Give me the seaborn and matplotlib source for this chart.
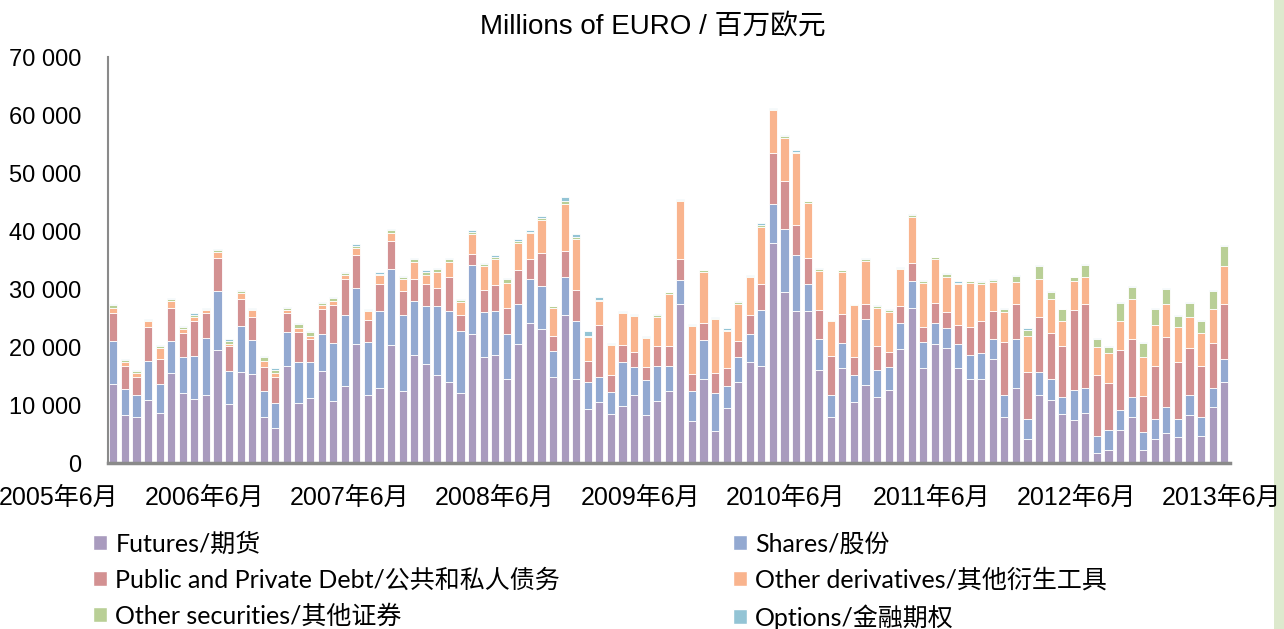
import numpy as np
import pandas as pd
import matplotlib
matplotlib.use("Agg")
import matplotlib.pyplot as plt
from matplotlib.patches import Patch, Rectangle
import seaborn as sns

# monthly turnover, thousands of EUR millions, Jun 2005 - Jun 2013
months = pd.period_range("2005-06", "2013-06", freq="M").astype(str)

futures = [13.6, 8.2, 8.0, 10.8, 8.7, 15.6, 12.0, 11.0, 11.8, 19.4,
           10.1, 15.7, 15.3, 7.9, 6.0, 16.7, 10.3, 11.2, 15.9, 10.7,
           13.2, 20.6, 11.8, 12.9, 20.3, 12.5, 18.6, 17.1, 15.1, 14.0,
           12.0, 22.2, 18.3, 18.7, 14.5, 20.6, 24.1, 23.1, 14.8, 25.5,
           14.5, 9.3, 10.5, 8.4, 9.9, 11.8, 8.2, 10.7, 12.5, 27.5,
           7.2, 14.5, 5.6, 9.4, 14.0, 17.4, 16.8, 38.0, 29.4, 26.2,
           26.2, 16.1, 7.9, 16.3, 10.6, 13.4, 11.4, 12.6, 19.7, 26.7,
           16.4, 20.6, 19.9, 16.4, 14.5, 14.5, 17.9, 7.9, 13.0, 4.1,
           11.7, 10.9, 8.4, 7.5, 8.6, 1.8, 2.3, 5.7, 8.0, 2.2,
           4.1, 5.1, 4.4, 8.2, 4.7, 9.6, 14.0]
shares = [7.4, 4.6, 3.8, 6.8, 5.0, 5.4, 6.2, 7.4, 9.7, 10.2,
          5.7, 7.9, 5.9, 4.5, 4.3, 5.9, 7.2, 6.3, 6.3, 10.0,
          12.4, 9.5, 9.0, 13.3, 13.1, 13.1, 9.3, 9.9, 11.9, 12.2,
          10.7, 11.9, 7.7, 7.5, 7.7, 6.8, 7.6, 7.5, 4.5, 6.5,
          9.9, 4.7, 4.4, 3.8, 7.6, 4.7, 6.1, 6.0, 4.3, 4.0,
          5.2, 6.7, 6.5, 3.9, 4.3, 4.9, 9.5, 6.7, 10.9, 9.6,
          4.6, 5.2, 3.9, 4.4, 4.5, 11.5, 4.6, 4.0, 4.4, 4.7,
          4.5, 3.6, 3.3, 4.2, 4.2, 4.4, 3.4, 3.9, 8.3, 3.5,
          4.0, 3.5, 2.9, 5.1, 4.4, 2.9, 3.4, 3.5, 3.4, 3.2,
          3.5, 4.6, 3.2, 3.5, 3.3, 3.4, 3.9]
debt = [4.9, 4.0, 3.1, 5.9, 4.3, 5.8, 4.3, 6.1, 4.4, 5.8,
        4.3, 4.7, 4.0, 4.2, 4.6, 3.3, 5.1, 3.8, 4.4, 6.5,
        6.2, 5.8, 3.9, 4.7, 4.8, 4.0, 3.9, 3.9, 3.2, 5.9,
        2.9, 1.9, 3.9, 4.5, 4.6, 5.9, 3.4, 5.6, 2.6, 4.6,
        5.5, 3.6, 8.9, 2.9, 2.9, 2.7, 2.3, 3.4, 3.4, 3.6,
        3.0, 2.9, 3.5, 3.0, 2.8, 3.3, 4.6, 8.8, 8.3, 5.2,
        4.6, 5.1, 6.7, 5.0, 3.1, 2.6, 4.1, 2.6, 3.0, 3.0,
        2.5, 3.4, 2.9, 3.2, 4.8, 5.5, 4.9, 9.0, 6.2, 8.1,
        9.5, 8.1, 8.8, 13.7, 14.5, 10.5, 8.1, 10.3, 10.0, 6.2,
        9.2, 12.1, 9.8, 8.1, 8.8, 7.7, 9.6]
other_deriv = [0.9, 0.6, 0.7, 0.9, 1.9, 1.1, 0.6, 0.7, 0.5, 1.0,
               0.5, 1.0, 1.1, 1.0, 0.7, 0.5, 0.7, 0.6, 0.6, 0.8,
               0.7, 1.2, 1.5, 1.5, 1.5, 2.1, 2.9, 1.6, 2.8, 2.6,
               2.2, 3.4, 4.1, 4.4, 4.2, 4.7, 4.5, 5.7, 4.9, 8.0,
               8.7, 4.2, 4.1, 5.2, 5.5, 6.1, 5.0, 5.1, 8.9, 10.0,
               8.2, 8.9, 9.2, 6.4, 6.4, 6.5, 9.8, 7.3, 7.4, 12.4,
               9.4, 6.7, 5.9, 7.3, 9.0, 7.4, 6.7, 6.8, 6.3, 8.0,
               7.7, 7.5, 5.9, 7.1, 7.5, 6.5, 5.0, 5.2, 3.7, 6.2,
               6.5, 5.8, 4.3, 5.0, 4.6, 4.8, 5.2, 4.9, 6.8, 6.7,
               7.0, 5.7, 6.0, 5.4, 5.6, 5.9, 6.5]
other_sec = [0.4, 0.3, 0.2, 0.3, 0.3, 0.4, 0.3, 0.4, 0.2, 0.3,
             0.4, 0.4, 0.3, 0.6, 0.5, 0.3, 0.7, 0.7, 0.4, 0.4,
             0.3, 0.4, 0.1, 0.2, 0.4, 0.4, 0.4, 0.4, 0.4, 0.4,
             0.3, 0.5, 0.3, 0.5, 0.7, 0.3, 0.3, 0.3, 0.2, 0.5,
             0.4, 0.1, 0.2, 0.2, 0.1, 0.2, 0.2, 0.3, 0.3, 0.2,
             0.2, 0.2, 0.2, 0.2, 0.3, 0.2, 0.3, 0.2, 0.3, 0.3,
             0.3, 0.3, 0.2, 0.2, 0.2, 0.3, 0.3, 0.3, 0.2, 0.3,
             0.3, 0.4, 0.6, 0.2, 0.3, 0.3, 0.4, 0.6, 1.1, 1.1,
             2.3, 1.1, 2.1, 0.7, 2.0, 1.4, 1.0, 3.2, 2.1, 2.4,
             2.7, 2.5, 1.9, 2.4, 2.1, 3.1, 3.5]
options = [0.2, 0.2, 0.2, 0.1, 0.1, 0.2, 0.2, 0.2, 0.2, 0.2,
           0.3, 0.1, 0.2, 0.2, 0.2, 0.2, 0.1, 0.2, 0.2, 0.2,
           0.2, 0.3, 0.3, 0.3, 0.2, 0.2, 0.3, 0.3, 0.2, 0.2,
           0.2, 0.3, 0.2, 0.3, 0.2, 0.3, 0.2, 0.4, 0.1, 0.7,
           0.4, 0.9, 0.5, 0.2, 0.2, 0.2, 0.1, 0.2, 0.1, 0.2,
           0.2, 0.1, 0.2, 0.4, 0.2, 0.2, 0.3, 0.2, 0.2, 0.2,
           0.1, 0.2, 0.1, 0.1, 0.1, 0.2, 0.1, 0.2, 0.2, 0.2,
           0.2, 0.1, 0.2, 0.2, 0.1, 0.2, 0.1, 0.2, 0.2, 0.2,
           0.1, 0.2, 0.1, 0.1, 0.2, 0.2, 0.1, 0.2, 0.2, 0.2,
           0.2, 0.2, 0.2, 0.2, 0.2, 0.2, 0.1]

series_names = ["Futures/期货", "Shares/股份", "Public and Private Debt/公共和私人债务",
                "Other derivatives/其他衍生工具", "Other securities/其他证券",
                "Options/金融期权"]
series_colors = ["#A99BBE", "#93A9D1", "#D39192", "#F9B48E", "#B9CF96", "#93C4D5"]
tick_labels = ["2005年6月", "2006年6月", "2007年6月", "2008年6月", "2009年6月",
               "2010年6月", "2011年6月", "2012年6月", "2013年6月"]

wide = pd.DataFrame(dict(zip(series_names,
                             [futures, shares, debt, other_deriv, other_sec, options])))
wide["pos"] = np.arange(len(months))
long_df = wide.melt(id_vars="pos", var_name="series", value_name="value")

sns.set_style("white")
plt.rcParams["font.family"] = ["Liberation Sans", "Noto Sans CJK SC", "DejaVu Sans"]
plt.rcParams["text.color"] = "black"
plt.rcParams["ytick.color"] = "black"

fig = plt.figure(figsize=(12.84, 6.29), dpi=100)
ax = fig.add_axes([108 / 1284, 1 - 463 / 629, 1122 / 1284, 406 / 629])

sns.histplot(data=long_df, x="pos", weights="value", hue="series",
             hue_order=series_names[::-1], palette=dict(zip(series_names, series_colors)),
             multiple="stack", discrete=True, shrink=0.7, alpha=1,
             edgecolor="white", linewidth=0.6, legend=False, ax=ax)

ax.set_xlim(-0.46, 96.5)
ax.set_ylim(0, 70)
ax.set_yticks(range(0, 71, 10))
ax.set_yticklabels(["0"] + [f"{v} 000" for v in range(10, 71, 10)])
ax.tick_params(axis="y", length=0, pad=19, labelsize=17)
ax.tick_params(axis="x", length=0, labelbottom=False)
ax.set_xlabel("")
ax.set_ylabel("")
for side in ["top", "right"]:
    ax.spines[side].set_visible(False)
ax.spines["left"].set_color("#8a8a8a")
ax.spines["left"].set_linewidth(1.5)
ax.spines["bottom"].set_color("#8a8a8a")
ax.spines["bottom"].set_linewidth(2.5)

for lbl, xp in zip(tick_labels, np.linspace(59, 1222, len(tick_labels))):
    fig.text(xp / 1284, 1 - 498 / 629, lbl, ha="center", va="center", fontsize=18)

fig.text(653 / 1284, 1 - 27 / 629, "Millions of EURO / 百万欧元",
         ha="center", va="center", fontsize=20)

order = [0, 2, 4, 1, 3, 5]
handles = [Patch(facecolor=series_colors[i]) for i in order]
labels = [series_names[i] for i in order]
fig.legend(handles, labels, loc="upper left", bbox_to_anchor=(93 / 1284, 1 - 532 / 629),
           ncol=2, frameon=False, handlelength=0.55, handleheight=0.55,
           handletextpad=0.35, columnspacing=6.9, labelspacing=0.5, borderaxespad=0,
           borderpad=0, prop={"family": ["Lato", "Noto Sans CJK SC"], "size": 18})

# slide border strip on the right
fig.patches.append(Rectangle((1274 / 1284, 0), 10 / 1284, 1, transform=fig.transFigure,
                             facecolor="#dde9cd", edgecolor="none"))

fig.savefig("out.png", dpi=100)
